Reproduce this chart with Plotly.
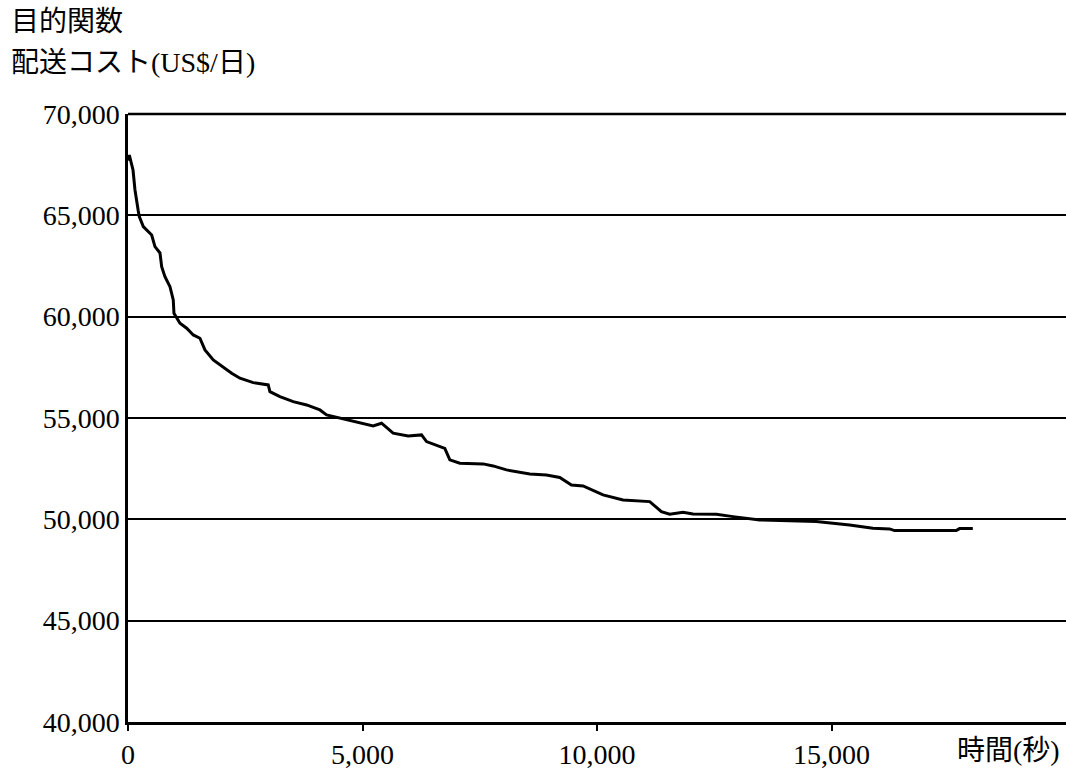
import plotly.graph_objects as go

# Data (time in seconds, cost in US$/day)
time_s = [0, 28, 107, 149, 219, 241, 326, 505, 575, 682, 718, 788, 895, 965, 980,
          1108, 1251, 1392, 1534, 1641, 1818, 1961, 2210, 2387, 2670, 2990, 3026,
          3239, 3523, 3808, 4092, 4234, 4518, 4944, 5227, 5406, 5653, 5973, 6259,
          6365, 6755, 6862, 7075, 7572, 7785, 8070, 8567, 8922, 9206, 9455, 9703,
          10129, 10555, 11124, 11373, 11550, 11834, 12047, 12545, 12899, 13468,
          14676, 15386, 15883, 16238, 16345, 17660, 17730, 18013]
cost = [67700, 67977, 67237, 66251, 65215, 64934, 64441, 64031, 63454, 63143, 62467,
        61974, 61481, 60825, 60169, 59675, 59429, 59098, 58935, 58358, 57865, 57618,
        57209, 56962, 56745, 56631, 56301, 56055, 55808, 55645, 55398, 55151, 54989,
        54782, 54609, 54742, 54249, 54116, 54165, 53835, 53500, 52932, 52769, 52735,
        52636, 52439, 52241, 52192, 52068, 51698, 51649, 51206, 50959, 50875, 50382,
        50253, 50352, 50268, 50253, 50134, 49972, 49888, 49725, 49562, 49527, 49443,
        49443, 49542, 49542]

x_ticks = [0, 5000, 10000, 15000]
x_tick_labels = ["0", "5,000", "10,000", "15,000"]
y_ticks = [40000, 45000, 50000, 55000, 60000, 65000, 70000]
y_tick_labels = ["40,000", "45,000", "50,000", "55,000", "60,000", "65,000", "70,000"]

title_line1 = "目的関数"
title_line2 = "配送コスト(US$/日)"
x_title = "時間(秒)"

FONT = "'Liberation Serif', 'Noto Sans CJK JP', serif"
TSIZE = 28

fig = go.Figure()
fig.add_trace(go.Scatter(x=time_s, y=cost, mode="lines",
                         line=dict(color="black", width=3),
                         showlegend=False, hoverinfo="skip"))

fig.update_layout(
    width=1066, height=775,
    margin=dict(l=128, r=0, t=114, b=53),
    paper_bgcolor="white", plot_bgcolor="white",
    font=dict(family=FONT, color="black", size=TSIZE),
)

fig.update_xaxes(
    range=[0, 20000], tickvals=x_ticks, ticktext=x_tick_labels,
    showline=True, linecolor="black", linewidth=2.5,
    ticks="outside", ticklen=6, tickwidth=2, tickcolor="black",
    showgrid=False, zeroline=False,
    tickfont=dict(family=FONT, size=TSIZE, color="black"),
    ticklabelstandoff=0,
)
fig.update_yaxes(
    range=[40000, 70000], tickvals=y_ticks, ticktext=y_tick_labels,
    showline=True, linecolor="black", linewidth=2.5,
    ticks="", showgrid=True, gridcolor="black", gridwidth=2,
    zeroline=False,
    tickfont=dict(family=FONT, size=TSIZE, color="black"),
    ticklabelstandoff=0,
)

# top frame line
fig.add_shape(type="line", xref="paper", yref="paper", x0=0, x1=1, y0=1, y1=1,
              line=dict(color="black", width=2.5))

fig.add_annotation(text=title_line1, xref="paper", yref="paper",
                   x=-119/938, y=1 + 92/608, xanchor="left", yanchor="middle",
                   showarrow=False, font=dict(family=FONT, size=TSIZE, color="black"))
fig.add_annotation(text=title_line2, xref="paper", yref="paper",
                   x=-119/938, y=1 + 52/608, xanchor="left", yanchor="middle",
                   showarrow=False, font=dict(family=FONT, size=TSIZE, color="black"))
fig.add_annotation(text=x_title, xref="paper", yref="paper",
                   x=1, y=0, xanchor="right", yanchor="middle", yshift=-28, xshift=-4,
                   showarrow=False, font=dict(family=FONT, size=TSIZE, color="black"))

fig.write_html("out.html", config={"displayModeBar": False})

# remove the default page margin so the figure fills the window exactly
with open("out.html", "r", encoding="utf-8") as f:
    html = f.read()
html = html.replace("<head>", "<head><style>html,body{margin:0;padding:0;overflow:hidden;}</style>", 1)
with open("out.html", "w", encoding="utf-8") as f:
    f.write(html)
